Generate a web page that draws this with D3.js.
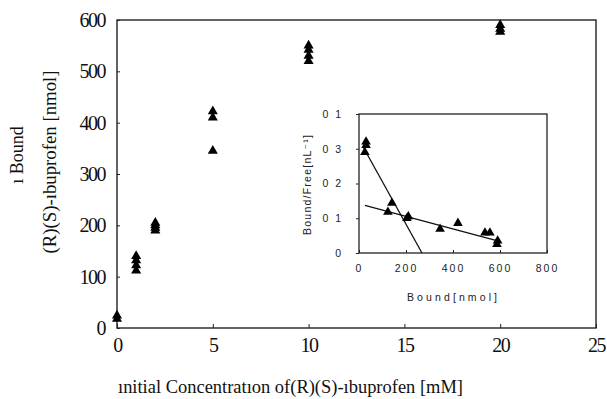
<!DOCTYPE html>
<html>
<head>
<meta charset="utf-8">
<script src="https://cdn.jsdelivr.net/npm/d3@7/dist/d3.min.js"></script>
<style>
  html, body { margin: 0; padding: 0; background: #fff; }
  svg { display: block; }
  .serif { font-family: "Liberation Serif", "DejaVu Serif", serif; fill: #111; }
  .sans { font-family: "Liberation Sans", "DejaVu Sans", sans-serif; fill: #222; }
</style>
</head>
<body>
<svg id="chart" width="607" height="399"></svg>
<script>
// ---- main plot data: initial concentration [mM] vs bound [nmol]
const concMM   = [0, 0, 1, 1, 1, 1, 2, 2, 2, 2, 5, 5, 5, 10, 10, 10, 10, 20, 20, 20];
const boundNmol = [18, 24, 112, 122, 132, 140, 190, 195, 200, 205, 345, 410, 422, 520, 530, 542, 550, 577, 583, 590];
const mainXTicks = [0, 5, 10, 15, 20, 25];
const mainYTicks = [0, 100, 200, 300, 400, 500, 600];

// ---- inset (Scatchard) data: bound [nmol] vs bound/free
const insetBound = [25, 30, 30, 123, 140, 204, 210, 345, 421, 536, 557, 587, 590];
const insetRatio = [0.29, 0.31, 0.32, 0.118, 0.144, 0.100, 0.105, 0.069, 0.086, 0.058, 0.058, 0.025, 0.035];
const steepFit   = [[20, 0.302], [268, 0]];
const shallowFit = [[25, 0.137], [590, 0.035]];
const insetXTicks = [0, 200, 400, 600, 800];
const insetYTicks = [0, 0.1, 0.2, 0.3, 0.4];
const insetYLabels = ['0', '0 1', '0 2', '0 3', '0 1'];   // as printed in the scan

const svg = d3.select('#chart');

// ============================================================================
// MAIN PLOT
// ============================================================================
const x = d3.scaleLinear().domain([0, 25]).range([117, 596]);
const y = d3.scaleLinear().domain([0, 600]).range([328, 20]);

const g = svg.append('g');

// frame
g.append('rect')
    .attr('x', x(0)).attr('y', y(600))
    .attr('width', x(25) - x(0)).attr('height', y(0) - y(600))
    .attr('fill', 'none').attr('stroke', '#222').attr('stroke-width', 1.4);

// x axis
const xAxis = g.append('g')
    .attr('transform', `translate(0,${y(0)})`)
    .call(d3.axisBottom(x).tickValues(mainXTicks).tickSizeInner(-4).tickSizeOuter(0).tickPadding(10));
xAxis.select('.domain').remove();
xAxis.selectAll('line').attr('stroke', '#222');
xAxis.selectAll('text').attr('class', 'serif').attr('font-size', 20).attr('letter-spacing', -1.5);

// y axis
const yAxis = g.append('g')
    .attr('transform', `translate(${x(0)},0)`)
    .call(d3.axisLeft(y).tickValues(mainYTicks).tickSizeInner(-3).tickSizeOuter(0).tickPadding(12));
yAxis.select('.domain').remove();
yAxis.selectAll('line').attr('stroke', '#222');
yAxis.selectAll('text').attr('class', 'serif').attr('font-size', 20).attr('letter-spacing', -1.5);

// points
const tri = d3.symbol().type(d3.symbolTriangle).size(44);
g.selectAll('.pt')
    .data(concMM.map((c, i) => [c, boundNmol[i]]))
    .join('path')
    .attr('class', 'pt')
    .attr('d', tri)
    .attr('transform', d => `translate(${x(d[0])},${y(d[1])})`)
    .attr('fill', '#000');

// axis titles
svg.append('text')
    .attr('class', 'serif')
    .attr('x', 118).attr('y', 393)
    .attr('font-size', 18)
    .attr('textLength', 345).attr('lengthAdjust', 'spacingAndGlyphs')
    .text('ınitial Concentratıon of(R)(S)-ıbuprofen [mM]');

svg.append('text')
    .attr('class', 'serif')
    .attr('transform', 'translate(23,155) rotate(-90)')
    .attr('text-anchor', 'middle')
    .attr('font-size', 18)
    .text('ı  Bound');

svg.append('text')
    .attr('class', 'serif')
    .attr('transform', 'translate(56,162) rotate(-90)')
    .attr('text-anchor', 'middle')
    .attr('font-size', 18)
    .attr('textLength', 183).attr('lengthAdjust', 'spacingAndGlyphs')
    .text('(R)(S)-ıbuprofen [nmol]');

// ============================================================================
// INSET (Scatchard plot)
// ============================================================================
const ix = d3.scaleLinear().domain([0, 800]).range([359, 547]);
const iy = d3.scaleLinear().domain([0, 0.4]).range([253, 114]);

const ig = svg.append('g');

ig.append('rect')
    .attr('x', ix(0)).attr('y', iy(0.4))
    .attr('width', ix(800) - ix(0)).attr('height', iy(0) - iy(0.4))
    .attr('fill', '#fff').attr('stroke', '#222').attr('stroke-width', 1.3);

const ixAxis = ig.append('g')
    .attr('transform', `translate(0,${iy(0)})`)
    .call(d3.axisBottom(ix).tickValues(insetXTicks).tickSizeInner(-3).tickSizeOuter(0).tickPadding(12));
ixAxis.select('.domain').remove();
ixAxis.selectAll('line').attr('stroke', '#222');
ixAxis.selectAll('text').attr('class', 'sans').attr('font-size', 10.5).attr('letter-spacing', 2);

const iyAxis = ig.append('g')
    .attr('transform', `translate(${ix(0)},0)`)
    .call(d3.axisLeft(iy).tickValues(insetYTicks).tickFormat((d, i) => insetYLabels[i])
        .tickSizeInner(3).tickSizeOuter(0).tickPadding(13));
iyAxis.select('.domain').remove();
iyAxis.selectAll('line').attr('stroke', '#222');
iyAxis.selectAll('text').attr('class', 'sans').attr('font-size', 10.5).attr('letter-spacing', 2);

// fitted lines
const line = d3.line().x(d => ix(d[0])).y(d => iy(d[1]));
ig.selectAll('.fit')
    .data([steepFit, shallowFit])
    .join('path')
    .attr('class', 'fit')
    .attr('d', line)
    .attr('fill', 'none')
    .attr('stroke', '#111')
    .attr('stroke-width', 1.3);

const itri = d3.symbol().type(d3.symbolTriangle).size(40);
ig.selectAll('.ipt')
    .data(insetBound.map((b, i) => [b, insetRatio[i]]))
    .join('path')
    .attr('class', 'ipt')
    .attr('d', itri)
    .attr('transform', d => `translate(${ix(d[0])},${iy(d[1])})`)
    .attr('fill', '#000');

// inset titles
svg.append('text')
    .attr('class', 'sans')
    .attr('x', 452).attr('y', 301)
    .attr('text-anchor', 'middle')
    .attr('font-size', 10.5)
    .attr('textLength', 90).attr('lengthAdjust', 'spacing')
    .text('Bound[nmol]');

svg.append('text')
    .attr('class', 'sans')
    .attr('transform', 'translate(311,185) rotate(-90)')
    .attr('text-anchor', 'middle')
    .attr('font-size', 10.5)
    .attr('textLength', 100).attr('lengthAdjust', 'spacing')
    .text('Bound/Free[nL⁻¹]');
</script>
</body>
</html>
